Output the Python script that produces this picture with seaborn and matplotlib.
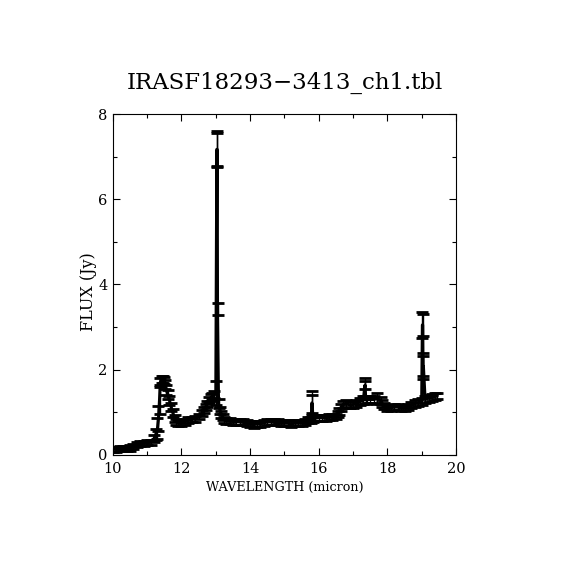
import numpy as np
import pandas as pd
import matplotlib
matplotlib.use("Agg")
import matplotlib.pyplot as plt
import seaborn as sns
from matplotlib.ticker import MultipleLocator

sns.set_style("ticks", {"text.color": "black", "axes.labelcolor": "black",
                        "xtick.color": "black", "ytick.color": "black",
                        "axes.edgecolor": "black"})
plt.rcParams['font.family'] = ['DejaVu Serif', 'Liberation Serif']

# spectrum
wave = [10.0, 10.1, 10.2, 10.3, 10.4, 10.5, 10.6, 10.7, 10.8, 10.9,
        11.0, 11.1, 11.2, 11.25, 11.3, 11.33, 11.36, 11.38, 11.42, 11.46, 11.5,
        11.53, 11.56, 11.6, 11.65, 11.7, 11.75, 11.8, 11.85, 11.9,
        12.0, 12.1, 12.2, 12.3, 12.4, 12.5, 12.6, 12.65, 12.7, 12.75, 12.8, 12.85, 12.9, 12.95,
        13.0, 13.03, 13.04, 13.05, 13.08, 13.12, 13.16, 13.2, 13.25, 13.3, 13.4, 13.5, 13.6, 13.7, 13.8, 13.9,
        14.0, 14.1, 14.2, 14.3, 14.4, 14.5, 14.6, 14.7, 14.8, 14.9,
        15.0, 15.1, 15.2, 15.3, 15.4, 15.5, 15.6, 15.7, 15.78, 15.8, 15.81, 15.83, 15.9,
        16.0, 16.1, 16.2, 16.3, 16.4, 16.5, 16.55, 16.6, 16.65, 16.7, 16.8, 16.9,
        17.0, 17.1, 17.2, 17.3, 17.34, 17.35, 17.37, 17.4, 17.5, 17.6, 17.7, 17.8, 17.85, 17.9,
        18.0, 18.1, 18.2, 18.3, 18.4, 18.5, 18.6, 18.7, 18.8, 18.9,
        19.0, 19.02, 19.03, 19.04, 19.05, 19.1, 19.2, 19.3, 19.4, 19.45]
flux = [0.13, 0.13, 0.14, 0.14, 0.15, 0.16, 0.20, 0.24, 0.26, 0.27,
        0.28, 0.30, 0.38, 0.48, 0.62, 0.85, 1.30, 1.70, 1.76, 1.76, 1.74,
        1.65, 1.52, 1.42, 1.28, 1.12, 0.98, 0.86, 0.78, 0.75,
        0.74, 0.78, 0.82, 0.83, 0.85, 0.90, 0.98, 1.05, 1.12, 1.20, 1.28, 1.34, 1.38, 1.42,
        1.45, 7.17, 7.17, 3.43, 1.20, 1.05, 0.95, 0.88, 0.82, 0.80, 0.79, 0.78, 0.78, 0.77, 0.76, 0.74,
        0.72, 0.71, 0.72, 0.73, 0.75, 0.77, 0.77, 0.76, 0.76, 0.75,
        0.74, 0.74, 0.73, 0.74, 0.74, 0.75, 0.78, 0.81, 0.82, 1.22, 1.20, 0.84, 0.86,
        0.87, 0.87, 0.87, 0.88, 0.88, 0.90, 0.95, 1.02, 1.12, 1.18, 1.20, 1.17,
        1.18, 1.20, 1.25, 1.28, 1.60, 1.64, 1.29, 1.30, 1.30, 1.30, 1.32, 1.28, 1.20, 1.14,
        1.10, 1.10, 1.12, 1.12, 1.10, 1.10, 1.12, 1.16, 1.20, 1.22,
        1.25, 3.05, 3.05, 2.08, 2.08, 1.30, 1.33, 1.35, 1.37, 1.38]
err = [0.06, 0.06, 0.06, 0.06, 0.06, 0.06, 0.06, 0.06, 0.06, 0.06,
       0.06, 0.06, 0.08, 0.12, 0.25, 0.30, 0.35, 0.10, 0.08, 0.08, 0.08,
       0.10, 0.12, 0.10, 0.10, 0.10, 0.10, 0.08, 0.07, 0.07,
       0.07, 0.07, 0.07, 0.07, 0.07, 0.07, 0.07, 0.07, 0.07, 0.07, 0.07, 0.08, 0.08, 0.08,
       0.29, 0.42, 0.38, 0.14, 0.10, 0.08, 0.08, 0.07, 0.07, 0.07, 0.07, 0.07, 0.07, 0.07, 0.07, 0.07,
       0.07, 0.07, 0.07, 0.07, 0.07, 0.07, 0.07, 0.07, 0.07, 0.07,
       0.07, 0.07, 0.07, 0.07, 0.07, 0.07, 0.07, 0.07, 0.07, 0.29, 0.21, 0.07, 0.07,
       0.07, 0.07, 0.07, 0.07, 0.07, 0.07, 0.07, 0.08, 0.08, 0.08, 0.08, 0.08,
       0.08, 0.08, 0.08, 0.09, 0.21, 0.10, 0.09, 0.09, 0.08, 0.08, 0.13, 0.08, 0.08, 0.07,
       0.07, 0.07, 0.07, 0.07, 0.07, 0.07, 0.07, 0.07, 0.08, 0.08,
       0.09, 0.31, 0.25, 0.31, 0.24, 0.08, 0.08, 0.08, 0.08, 0.08]

df = pd.DataFrame({"wave": wave, "flux": flux, "err": err})

fig = plt.figure(figsize=(5.7, 5.7), dpi=100)
ax = fig.add_axes([0.198, 0.202, 0.602, 0.598])

sns.lineplot(data=df, x="wave", y="flux", sort=False, color="black", lw=2.2, ax=ax)
ax.errorbar(df.wave, df.flux, yerr=df.err, fmt="none", ecolor="black",
            elinewidth=1, capsize=4.5, capthick=2)

ax.set_xlim(10, 20)
ax.set_ylim(0, 8)
ax.xaxis.set_major_locator(MultipleLocator(2))
ax.xaxis.set_minor_locator(MultipleLocator(1))
ax.yaxis.set_major_locator(MultipleLocator(2))
ax.yaxis.set_minor_locator(MultipleLocator(1))
ax.tick_params(which="both", direction="in", top=True, right=True,
               color="black", labelcolor="black", width=0.8, labelsize=10.5)
ax.tick_params(axis="x", pad=5)
ax.tick_params(axis="y", pad=4)
ax.tick_params(which="major", length=5)
ax.tick_params(which="minor", length=3)
for s in ax.spines.values():
    s.set_color("black")
    s.set_linewidth(0.8)

ax.set_xlabel("WAVELENGTH (micron)", fontsize=9.2, labelpad=4, color="black")
ax.set_ylabel("FLUX (Jy)", fontsize=11.5, color="black")
ax.yaxis.set_label_coords(-0.045, 0.48)
ax.set_title("IRASF18293\u22123413_ch1.tbl", fontsize=16.5, pad=18, color="black")

fig.savefig("out.png", dpi=100, facecolor="white")
